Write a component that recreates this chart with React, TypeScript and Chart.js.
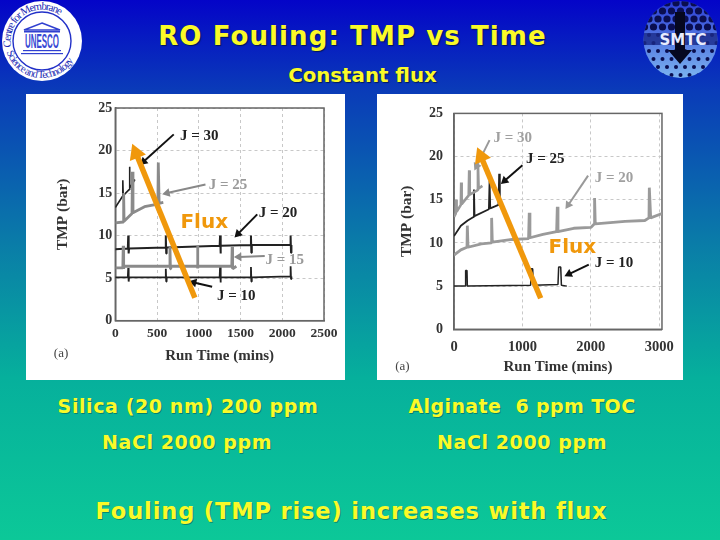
import React, { useEffect, useRef } from "react";
import { Chart, registerables } from "chart.js";

Chart.register(...registerables);

type P = [number, number];
type Note = { text: string; at: P; color: string; font?: string };

const leftXTicks = [0, 500, 1000, 1500, 2000, 2500];
const leftJ30: P[] = [[0, 13.3], [85, 14.6], [90, 16.5], [95, 14.7], [165, 15.4], [170, 18.1], [175, 15.6], [235, 16.6]];
const leftJ25: P[] = [[0, 11.5], [95, 11.6], [100, 15], [105, 11.7], [200, 12.6], [205, 17.5], [212, 12.7], [350, 13.4], [510, 13.7], [515, 18.6], [525, 13.8], [575, 13.9]];
const leftJ20: P[] = [[0, 8.4], [150, 8.5], [155, 10], [160, 7.9], [165, 8.5], [600, 8.6], [605, 10], [610, 7.9], [615, 8.6], [1250, 8.8], [1255, 10], [1260, 7.9], [1265, 8.8], [1620, 8.9], [1625, 10], [1630, 8], [1635, 8.9], [2095, 8.9], [2100, 10], [2105, 8], [2110, 8.9]];
const leftJ15: P[] = [[0, 6.2], [90, 6.2], [95, 8.8], [100, 6.1], [105, 6.4], [650, 6.4], [655, 8.7], [660, 6.1], [665, 6.4], [980, 6.4], [985, 8.8], [990, 6.2], [995, 6.4], [1395, 6.4], [1400, 8.7], [1405, 6.1], [1450, 6.4]];
const leftJ10: P[] = [[0, 5.1], [150, 5.1], [155, 6.2], [160, 4.6], [165, 5.1], [600, 5.1], [605, 6.1], [610, 4.6], [615, 5.1], [1250, 5.1], [1255, 6.3], [1260, 4.5], [1265, 5.1], [1620, 5.1], [1625, 6.3], [1630, 4.6], [1635, 5.1], [2095, 5.2], [2100, 6.4], [2105, 4.9], [2110, 5.2]];
const leftFlux: P[] = [[953, 2.7], [248, 19.7]];
const leftPointers: { color: string; from: P; to: P }[] = [
  { color: "#111111", from: [700, 21.9], to: [340, 18.7] },
  { color: "#888888", from: [1080, 16], to: [620, 15] },
  { color: "#111111", from: [1700, 12.5], to: [1470, 10.2] },
  { color: "#888888", from: [1790, 7.6], to: [1480, 7.5] },
  { color: "#111111", from: [1160, 4.0], to: [940, 4.5] },
];
const leftNotes: Note[] = [
  { text: "J = 30", at: [1005, 21.7], color: "#222222" },
  { text: "J = 25", at: [1350, 15.9], color: "#9a9a9a" },
  { text: "J = 20", at: [1950, 12.7], color: "#222222" },
  { text: "J = 15", at: [2030, 7.1], color: "#9a9a9a" },
  { text: "J = 10", at: [1450, 2.9], color: "#222222" },
  { text: "Flux", at: [1065, 11.5], color: "#f0980c", font: "bold 20px 'DejaVu Sans'" },
  { text: "(a)", at: [-650, -3.9], color: "#444444", font: "13px 'Liberation Serif'" },
];

const rightXTicks = [0, 1000, 2000, 3000];
const rightJ30: P[] = [[0, 13], [25, 13.4], [30, 15], [38, 13.6], [100, 14.4], [105, 17], [112, 14.5], [215, 15.5], [222, 18.4], [230, 15.6], [340, 16.1], [350, 19.2], [360, 16.3], [415, 16.6]];
const rightJ25: P[] = [[0, 10.8], [100, 12], [200, 12.6], [285, 13], [292, 16.2], [300, 13.1], [510, 13.9], [520, 17.2], [530, 14], [650, 14.4], [660, 18], [670, 14.6]];
const rightJ20: P[] = [[0, 8.6], [100, 9.2], [190, 9.5], [195, 12], [205, 9.5], [400, 9.9], [545, 10], [550, 12.9], [560, 10.1], [850, 10.4], [1090, 10.5], [1100, 13.5], [1110, 10.6], [1300, 11], [1500, 11.3], [1510, 14.2], [1520, 11.3], [1750, 11.7], [2000, 11.8], [2050, 12.2], [2055, 15.2], [2065, 12.2], [2500, 12.5], [2790, 12.6], [2850, 12.9], [2855, 16.4], [2875, 12.9], [3040, 13.4]];
const rightJ10: P[] = [[0, 5], [165, 5], [170, 6.8], [190, 6.8], [195, 5], [1120, 5.1], [1130, 7], [1150, 7], [1160, 5.1], [1520, 5.2], [1530, 7.2], [1560, 7.2], [1570, 5.1], [1650, 5]];
const rightFlux: P[] = [[1267, 3.6], [395, 20]];
const rightPointers: { color: string; from: P; to: P }[] = [
  { color: "#999999", from: [520, 21.9], to: [330, 18.9] },
  { color: "#111111", from: [1000, 19], to: [740, 17.2] },
  { color: "#999999", from: [1960, 17.8], to: [1670, 14.4] },
  { color: "#111111", from: [1970, 7.5], to: [1680, 6.4] },
];
const rightNotes: Note[] = [
  { text: "J = 30", at: [860, 22.1], color: "#a0a0a0" },
  { text: "J = 25", at: [1333, 19.7], color: "#222222" },
  { text: "J = 20", at: [2340, 17.45], color: "#a0a0a0" },
  { text: "J = 10", at: [2340, 7.7], color: "#222222" },
  { text: "Flux", at: [1730, 9.45], color: "#f0980c", font: "bold 20px 'DejaVu Sans'" },
  { text: "(a)", at: [-755, -4.3], color: "#444444", font: "13px 'Liberation Serif'" },
];

const noteFont = "bold 15px 'Liberation Serif'";

const notesPlugin = {
  id: "notes",
  beforeDatasetsDraw(chart: any) {
    const { ctx, chartArea: a } = chart;
    ctx.save();
    ctx.strokeStyle = "#666666";
    ctx.lineWidth = 1.5;
    ctx.strokeRect(a.left, a.top, a.right - a.left, a.bottom - a.top);
    ctx.restore();
  },
  afterDatasetsDraw(chart: any, _args: any, opts: { items: Note[] }) {
    const { ctx, scales } = chart;
    ctx.save();
    ctx.textAlign = "center";
    ctx.textBaseline = "middle";
    for (const n of opts.items || []) {
      ctx.font = n.font || noteFont;
      ctx.fillStyle = n.color;
      ctx.fillText(n.text, scales.x.getPixelForValue(n.at[0]), scales.y.getPixelForValue(n.at[1]));
    }
    ctx.restore();
  },
};

function line(data: P[], color: string, width: number) {
  return {
    data: data.map(([x, y]) => ({ x, y })),
    borderColor: color,
    borderWidth: width,
    borderJoinStyle: "bevel" as const,
    pointRadius: 0,
    tension: 0,
    parsing: false as const,
    order: 2,
  };
}

function arrow(from: P, to: P, color: string, width: number, head: number, order: number) {
  return {
    data: [from, to].map(([x, y]) => ({ x, y })),
    borderColor: color,
    backgroundColor: color,
    borderWidth: width,
    pointBorderWidth: 0,
    pointRadius: [0, head],
    pointStyle: "triangle",
    pointRotation: (ctx: any) => {
      const { x, y } = ctx.chart.scales;
      const dx = x.getPixelForValue(to[0]) - x.getPixelForValue(from[0]);
      const dy = y.getPixelForValue(to[1]) - y.getPixelForValue(from[1]);
      return (Math.atan2(dy, dx) * 180) / Math.PI + 90;
    },
    tension: 0,
    parsing: false as const,
    order,
  };
}

type PanelProps = {
  box: { left: number; top: number; width: number; height: number };
  plot: { left: number; top: number; right: number; bottom: number };
  xMax: number;
  xTicks: number[];
  series: { data: P[]; color: string; width: number }[];
  flux: P[];
  pointers: { color: string; from: P; to: P }[];
  notes: Note[];
  yTitlePad: number;
  xTitlePad: number;
  xTickPad: number;
  yTickPad: number;
  xTickSize: number;
};

function Panel(p: PanelProps) {
  const ref = useRef<HTMLCanvasElement>(null);
  useEffect(() => {
    const chart = new Chart(ref.current!, {
      type: "line",
      plugins: [notesPlugin],
      data: {
        datasets: [
          ...p.series.map((s) => line(s.data, s.color, s.width)),
          ...p.pointers.map((a) => arrow(a.from, a.to, a.color, 2, 5, 1)),
          arrow(p.flux[0], p.flux[1], "#f0980c", 5.5, 10, 0),
        ] as any,
      },
      options: {
        responsive: false,
        animation: false,
        devicePixelRatio: 1,
        layout: { padding: { top: p.plot.top, right: p.box.width - p.plot.right, left: 0, bottom: 0 } },
        plugins: { legend: { display: false }, tooltip: { enabled: false }, notes: { items: p.notes } } as any,
        scales: {
          x: {
            type: "linear",
            min: 0,
            max: p.xMax,
            afterFit: (s: any) => { s.height = p.box.height - p.plot.bottom; },
            afterBuildTicks: (s: any) => { s.ticks = p.xTicks.map((value) => ({ value })); },
            border: { color: "#666666", width: 1.5, dash: [3, 3] },
            grid: { color: "#c8c8c8", drawTicks: false },
            ticks: { color: "#333333", padding: p.xTickPad, maxRotation: 0, autoSkip: false, callback: (v: any) => String(v), font: { family: "'Liberation Serif'", weight: "bold", size: p.xTickSize } },
            title: { display: true, text: "Run Time (mins)", color: "#333333", padding: { top: 0, bottom: p.xTitlePad }, font: { family: "'Liberation Serif'", weight: "bold", size: 15 } },
          },
          y: {
            type: "linear",
            min: 0,
            max: 25,
            afterFit: (s: any) => { s.width = p.plot.left; },
            border: { color: "#666666", width: 1.5, dash: [3, 3] },
            grid: { color: "#c8c8c8", drawTicks: false },
            ticks: { stepSize: 5, color: "#333333", padding: p.yTickPad, callback: (v: any) => String(v), font: { family: "'Liberation Serif'", weight: "bold", size: 14 } },
            title: { display: true, text: "TMP (bar)", color: "#333333", padding: { top: p.yTitlePad, bottom: 0 }, font: { family: "'Liberation Serif'", weight: "bold", size: 15.4 } },
          },
        },
      } as any,
    });
    return () => chart.destroy();
  }, []);
  return (
    <div style={{ position: "absolute", left: p.box.left, top: p.box.top, width: p.box.width, height: p.box.height, background: "#ffffff" }}>
      <canvas ref={ref} width={p.box.width} height={p.box.height} style={{ display: "block", filter: "blur(0.5px)" }} />
    </div>
  );
}

const yellow = "#fafa28";
function Label({ text, cx, y, size, spacing = 0.6, shadow = true }: { text: string; cx: number; y: number; size: number; spacing?: number; shadow?: boolean }) {
  return (
    <div
      style={{
        position: "absolute",
        left: cx - 300,
        width: 600,
        top: y - size,
        height: size * 2,
        lineHeight: `${size * 2}px`,
        textAlign: "center",
        whiteSpace: "pre",
        color: yellow,
        fontFamily: "'DejaVu Sans', sans-serif",
        fontWeight: 700,
        fontSize: size,
        letterSpacing: spacing,
        textShadow: shadow ? "1px 1px 1px rgba(0,20,60,0.8)" : "1px 1px 0 rgba(0,80,70,0.5)",
      }}
    >
      {text}
    </div>
  );
}

function UnescoLogo() {
  return (
    <svg style={{ position: "absolute", left: 0, top: 0 }} width={90} height={84} viewBox="0 0 90 84">
      <circle cx={42} cy={41} r={40} fill="#ffffff" />
      <circle cx={42} cy={41} r={29} fill="#ffffff" stroke="#2230c8" strokeWidth={1.4} />
      <defs>
        <path id="logoTop" d="M 11.1 47 A 31.5 31.5 0 0 1 71.5 30" />
        <path id="logoBot" d="M 6.7 52 A 37 37 0 0 0 77.3 52" />
      </defs>
      <text fontFamily="'Liberation Serif'" fontSize={11} fill="#1c2bb4"><textPath href="#logoTop" textLength={74}>Centre for Membrane</textPath></text>
      <text fontFamily="'Liberation Serif'" fontSize={10.5} fill="#1c2bb4"><textPath href="#logoBot" textLength={84}>Science and Technology</textPath></text>
      <polygon points="42,23 60,30 24,30" fill="none" stroke="#3040d0" strokeWidth={1.5} />
      <rect x={24} y={31} width={36} height={1.5} fill="#3040d0" />
      <text x={42} y={48} textAnchor="middle" fontFamily="'Liberation Sans'" fontWeight={700} fontSize={21} textLength={34} lengthAdjust="spacingAndGlyphs" fill="#3848d4">UNESCO</text>
      <rect x={23} y={50} width={38} height={1.2} fill="#3040d0" />
      <rect x={21} y={53} width={42} height={1.2} fill="#3040d0" />
    </svg>
  );
}

const dotRows = [0, 1, 2, 3, 4, 5, 6, 7, 8, 9];

function SmtcLogo() {
  return (
    <svg style={{ position: "absolute", left: 637, top: 0 }} width={83} height={80} viewBox="0 0 83 80">
      <defs>
        <linearGradient id="smtcG" x1="0" y1="0" x2="0" y2="1">
          <stop offset="0" stopColor="#2a3cd4" />
          <stop offset="1" stopColor="#7cb4f0" />
        </linearGradient>
        <clipPath id="smtcC"><ellipse cx={43.5} cy={39.5} rx={37} ry={38.5} /></clipPath>
      </defs>
      <ellipse cx={43.5} cy={39.5} rx={37} ry={38.5} fill="url(#smtcG)" />
      <g clipPath="url(#smtcC)" fill="#0a0e50">
        {dotRows.flatMap((r) =>
          dotRows.map((c) => (
            <circle key={`${r}-${c}`} cx={c * 9 + 3 + (r % 2 ? 4.5 : 0)} cy={r * 8 + 3} r={r < 4 ? 3.6 : 2} />
          ))
        )}
        <rect x={0} y={33} width={83} height={12} fill="#1a2a88" opacity={0.8} />
        <polygon points="38,12 48,12 48,50 55,50 43,64 31,50 38,50" fill="#060820" />
      </g>
      <text x={46} y={45} textAnchor="middle" fontFamily="'DejaVu Sans'" fontWeight={700} fontSize={15} fill="#e8ecff">SMTC</text>
    </svg>
  );
}

const leftBox = { left: 26, top: 94, width: 319, height: 286 };
const leftPlot = { left: 89.3, top: 14, right: 298, bottom: 226.7 };
const rightBox = { left: 377, top: 94, width: 306, height: 286 };
const rightPlot = { left: 77, top: 17.3, right: 286, bottom: 235.3 };

export default function App() {
  useEffect(() => {
    document.body.style.margin = "0";
  }, []);
  return (
    <div
      style={{
        position: "fixed",
        left: 0,
        top: 0,
        width: 720,
        height: 540,
        overflow: "hidden",
        background: "linear-gradient(180deg, #0404c8 0%, #0a3cb8 17%, #0a7ca8 45%, #06b09c 70%, #0cc898 100%)",
      }}
    >
      <UnescoLogo />
      <SmtcLogo />
      <Label text="RO Fouling: TMP vs Time" cx={352.5} y={36} size={26} spacing={1.1} />
      <Label text="Constant flux" cx={362.5} y={76} size={19.8} spacing={0} />
      <Panel
        box={leftBox}
        plot={leftPlot}
        xMax={2500}
        xTicks={leftXTicks}
        series={[
          { data: leftJ15, color: "#8a8a8a", width: 2.8 },
          { data: leftJ25, color: "#8a8a8a", width: 2.8 },
          { data: leftJ30, color: "#222222", width: 1.6 },
          { data: leftJ20, color: "#222222", width: 2 },
          { data: leftJ10, color: "#222222", width: 1.8 },
        ]}
        flux={leftFlux}
        pointers={leftPointers}
        notes={leftNotes}
        yTitlePad={28}
        xTitlePad={15}
        xTickPad={5}
        yTickPad={3}
        xTickSize={13.5}
      />
      <Panel
        box={rightBox}
        plot={rightPlot}
        xMax={3040}
        xTicks={rightXTicks}
        series={[
          { data: rightJ30, color: "#9a9a9a", width: 2.6 },
          { data: rightJ20, color: "#9a9a9a", width: 2.8 },
          { data: rightJ25, color: "#222222", width: 1.8 },
          { data: rightJ10, color: "#222222", width: 1.5 },
        ]}
        flux={rightFlux}
        pointers={rightPointers}
        notes={rightNotes}
        yTitlePad={21}
        xTitlePad={4}
        xTickPad={9}
        yTickPad={11}
        xTickSize={14.5}
      />
      <Label text="Silica (20 nm) 200 ppm" cx={188} y={406} size={19} shadow={false} />
      <Label text="Alginate  6 ppm TOC" cx={522} y={406} size={19} spacing={0.4} shadow={false} />
      <Label text="NaCl 2000 ppm" cx={187} y={442} size={19} shadow={false} />
      <Label text="NaCl 2000 ppm" cx={522} y={442} size={19} shadow={false} />
      <Label text="Fouling (TMP rise) increases with flux" cx={351.5} y={511} size={22.5} spacing={0.87} shadow={false} />
    </div>
  );
}
